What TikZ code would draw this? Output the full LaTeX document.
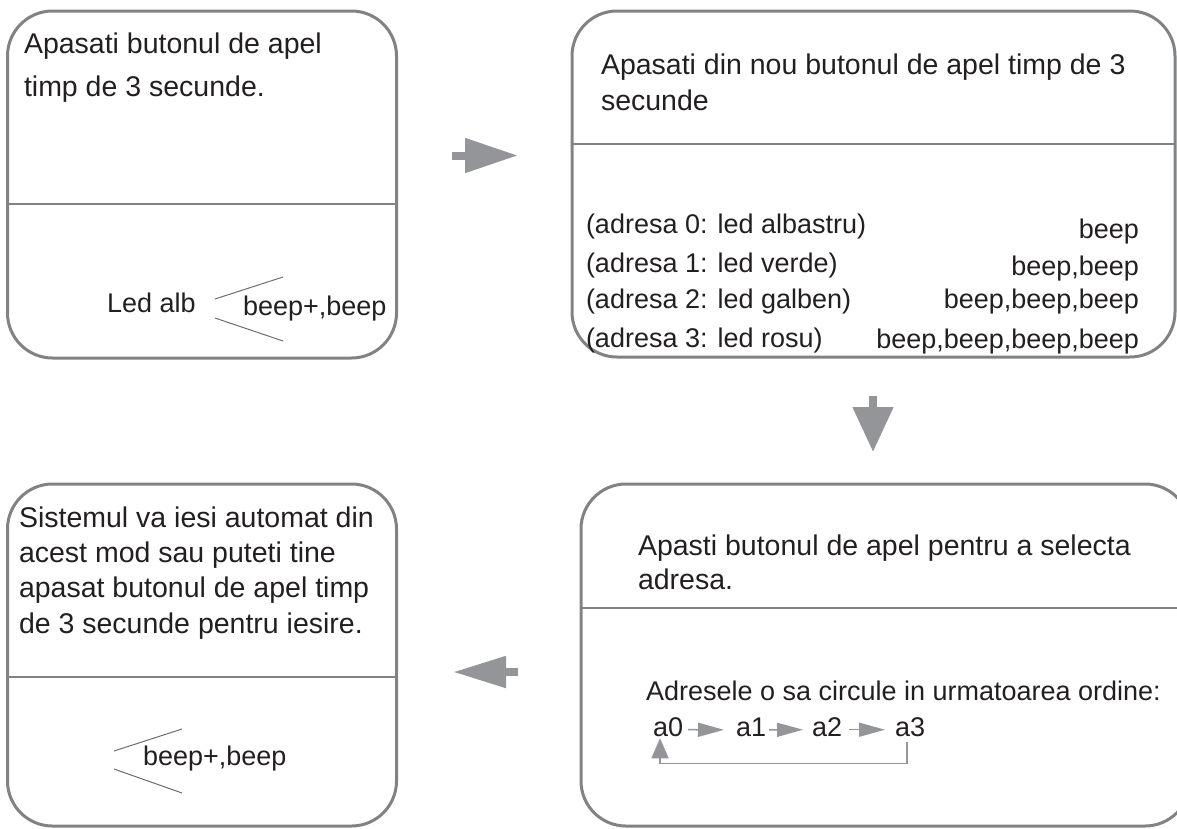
\documentclass[tikz,border=0pt]{standalone}
\usepackage{fontspec}
\setmainfont{Liberation Sans}
\usetikzlibrary{arrows.meta}
\definecolor{menuGray}{HTML}{808285}
\definecolor{menuArrow}{HTML}{939598}
\definecolor{menuInk}{HTML}{231F20}
\definecolor{menuLine}{HTML}{6D6E71}
\tikzset{
  menu diagram/.style={
    x=1pt, y=-1pt,
    every node/.style={font=\fontsize{27}{32}\selectfont,
      text=menuInk, inner sep=0pt, outer sep=0pt, anchor=base west}
  },
  menu head/.style={font=\fontsize{28.5}{34}\selectfont},
  menu panel/.style={draw=menuGray, line width=3pt, rounded corners=45pt,
    anchor=north west},
  menu divider/.style={draw=menuGray, line width=2pt},
  menu fork/.style={draw=menuLine, line width=1pt},
  menu flow/.style 2 args={draw=menuArrow, line width=8pt,
    -{Triangle[length=#1,width=#2]}},
  menu link/.style={draw=menuArrow, line width=1.5pt,
    -{Triangle[length=26pt,width=14pt]}},
  menu loop/.style={draw=menuArrow, line width=1.5pt,
    -{Triangle[length=20pt,width=17pt]}}
}

\begin{document}
\begin{tikzpicture}[menu diagram]
  \useasboundingbox (0,0) rectangle (1177,828);
  % panels
  \node[menu panel, minimum width=389pt, minimum height=347pt] (p1) at (7.5,11) {};
  \node[menu panel, minimum width=603pt, minimum height=346pt] (p2) at (572,11) {};
  \node[menu panel, minimum width=389pt, minimum height=342pt] (p3) at (7.5,484) {};
  \node[menu panel, minimum width=609pt, minimum height=342pt] (p4) at (581,484) {};
  \draw[menu divider] (p1.west |- 0,204) -- (p1.east |- 0,204);
  \draw[menu divider] (p2.west |- 0,144) -- (p2.east |- 0,144);
  \draw[menu divider] (p3.west |- 0,677) -- (p3.east |- 0,677);
  \draw[menu divider] (p4.west |- 0,608) -- (p4.east |- 0,608);

  % panel 1
  \node[menu head] (t1a) at (24,53) {Apasati butonul de apel};
  \node[menu head] (t1b) at (24,96) {timp de 3 secunde.};
  \node (led) at (107,312) {Led alb};
  \node (beep1) at (243,315) {beep+,beep};
  \draw[menu fork] (215,299) -- (283,277);
  \draw[menu fork] (215,318) -- (283,341);

  % panel 2
  \node[menu head] (t2a) at (601,74) {Apasati din nou butonul de apel timp de 3};
  \node[menu head] (t2b) at (601,110) {secunde};
  \node (adr0) at (586,233) {(adresa 0: led albastru)};
  \node (adr1) at (586,272) {(adresa 1: led verde)};
  \node (adr2) at (586,308) {(adresa 2: led galben)};
  \node (adr3) at (586,347) {(adresa 3: led rosu)};
  \node[anchor=base east] (bp0) at (1139,238) {beep};
  \node[anchor=base east] (bp1) at (1139,275) {beep,beep};
  \node[anchor=base east] (bp2) at (1139,308) {beep,beep,beep};
  \node[anchor=base east] (bp3) at (1139,348) {beep,beep,beep,beep};

  % panel 3
  \node[menu head] (t3a) at (19,527) {Sistemul va iesi automat din};
  \node[menu head] (t3b) at (19,562) {acest mod sau puteti tine};
  \node[menu head] (t3c) at (19,597) {apasat butonul de apel timp};
  \node[menu head] (t3d) at (19,633) {de 3 secunde pentru iesire.};
  \node (beep3) at (143,765) {beep+,beep};
  \draw[menu fork] (114,751) -- (182,729);
  \draw[menu fork] (114,769) -- (182,793);

  % panel 4
  \node[menu head] (t4a) at (638,555) {Apasti butonul de apel pentru a selecta};
  \node[menu head] (t4b) at (638,589) {adresa.};
  \node (order) at (646,700) {Adresele o sa circule in urmatoarea ordine:};
  \node (a0) at (653,736) {a0};
  \node (a1) at (736,736) {a1};
  \node (a2) at (812,736) {a2};
  \node (a3) at (895,736) {a3};
  \draw[menu link] ([xshift=5pt,yshift=-3pt]a0.east) -- ([xshift=-12pt,yshift=-3pt]a1.west);
  \draw[menu link] ([xshift=3pt,yshift=-3pt]a1.east) -- ([xshift=-9pt,yshift=-3pt]a2.west);
  \draw[menu link] ([xshift=7pt,yshift=-3pt]a2.east) -- ([xshift=-10pt,yshift=-3pt]a3.west);
  \draw[menu loop] ([xshift=-3pt,yshift=-6pt]a3.south) -- ++(0,21)
    -| ([xshift=-8pt,yshift=-2pt]a0.south);

  % flow between panels
  \coordinate (r0) at (452,155.5);
  \coordinate (r1) at (518,155.5);
  \coordinate (d0) at (873,396);
  \coordinate (d1) at (873,452);
  \coordinate (l0) at (518,672);
  \coordinate (l1) at (453,672);
  \draw[menu flow={53pt}{33pt}] (r0) -- (r1);
  \draw[menu flow={45pt}{39pt}] (d0) -- (d1);
  \draw[menu flow={53pt}{30pt}] (l0) -- (l1);
\end{tikzpicture}
\end{document}
